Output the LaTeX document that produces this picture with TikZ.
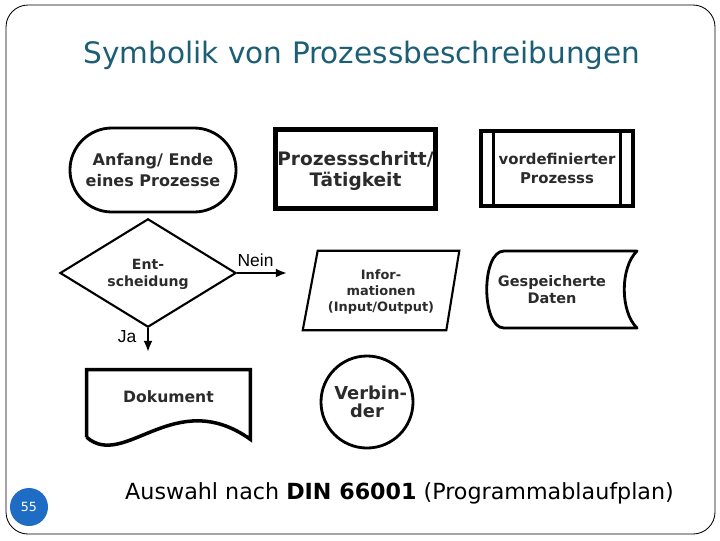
\documentclass[tikz,border=0pt]{standalone}
\usepackage{fontspec}
\setmainfont{DejaVu Sans}
\newfontfamily\arialfont{Liberation Sans}
\usetikzlibrary{positioning, arrows.meta, calc, shapes.geometric}

\definecolor{titleteal}{HTML}{1B5E75}
\definecolor{pageblue}{HTML}{1F6CC4}
\definecolor{symtext}{HTML}{2B2B2B}

\tikzset{
  symbol/.style={align=center, text=symtext, inner sep=0pt, text depth=0pt},
  symfont/.style 2 args={font=\fontsize{#1}{#2}\selectfont\bfseries},
  terminal/.style={symbol, draw=black, line width=2pt, rounded corners=1.05cm},
  flowarrow/.style={line width=1.6pt, -{Latex[length=8pt, width=6.5pt]}},
  yesno/.style={font=\arialfont\fontsize{12.4}{14}\selectfont, inner sep=0pt}
}

\begin{document}
\begin{tikzpicture}[x=0.025cm, y=-0.025cm, >=Stealth]

\useasboundingbox (0, 0) rectangle (720, 540);

% --- Slide frame ---
\draw[line width=0.6pt, rounded corners=0.55cm] (6, 5) rectangle (715, 534);

% --- Title ---
\node[text=titleteal, font=\fontsize{21}{25}\selectfont] (title) at (362, 55)
  {Symbolik von Prozessbeschreibungen};

% --- Row 1 ---
\node[terminal, minimum width=4.15cm, minimum height=2.1cm, symfont={11.4}{15}]
  (start) at (153, 170) {Anfang/ Ende\\eines Prozesse};

\node[symbol, draw=black, line width=3.5pt, minimum width=3.98cm, minimum height=1.97cm,
  symfont={13.2}{15}] (step) at (355.5, 169) {Prozessschritt/\\Tätigkeit};

\node[symbol, draw=black, line width=2.8pt, minimum width=3.78cm, minimum height=1.86cm,
  symfont={10.6}{13.5}] (predef) at (557, 168.5) {vordefinierter\\Prozesss};
\draw[line width=2.2pt] ($(predef.north west)+(14, 0)$) -- ($(predef.south west)+(14, 0)$);
\draw[line width=2.2pt] ($(predef.north east)+(-14, 0)$) -- ($(predef.south east)+(-14, 0)$);

% --- Row 2 ---
\node[symbol, diamond, draw=black, line width=1.5pt, minimum width=4.4cm, minimum height=2.2cm,
  symfont={10}{12}] (decision) at (148, 273) {Ent-\\scheidung};
\coordinate (nein end) at (287, 273);
\coordinate (ja end) at (148, 352);
\draw[flowarrow] (decision.east) -- (nein end)
  node[yesno, pos=0.37, anchor=south, yshift=3.5pt] (nein) {Nein};
\draw[flowarrow] (decision.south) -- (ja end)
  node[yesno, pos=0.37, left=7.5pt] (ja) {Ja};

% I/O parallelogram
\node[symbol, minimum width=3.9cm, minimum height=1.975cm, symfont={9.2}{11.4}]
  (io) at (381, 290.5) {Infor-\\mationen\\(Input/Output)};
\draw[line width=1.5pt] ($(io.north west)+(15, 0)$) -- (io.north east)
  -- ($(io.south east)+(-13, 0)$) -- (io.south west) -- cycle;

% stored data (offsets from the text centre)
\node[symbol, symfont={10.3}{12}] (stored) at (552, 289.5) {Gespeicherte\\Daten};
\draw[line width=2pt, line join=round] ($(stored.center)+(-48, -38.5)$) -- ($(stored.center)+(85, -38.5)$)
  .. controls ($(stored.center)+(68, -22)$) and ($(stored.center)+(68, 22)$)
  .. ($(stored.center)+(85, 38.5)$) -- ($(stored.center)+(-48, 38.5)$)
  .. controls ($(stored.center)+(-71, 38.5)$) and ($(stored.center)+(-71, -38.5)$) .. cycle;

% --- Row 3 ---
\node[symbol, minimum width=4.075cm, minimum height=1.35cm, symfont={11.1}{13}]
  (doc) at (168.5, 397) {Dokument};
\draw[line width=2.5pt, line join=miter] ($(doc.south west)+(0, 13)$) -- (doc.north west)
  -- (doc.north east) -- ($(doc.south east)+(0, 15)$)
  .. controls ($(doc.south west)+(88, -39)$) and ($(doc.south west)+(38, 46)$)
  .. ($(doc.south west)+(0, 13)$);

\node[symbol, circle, draw=black, line width=2pt, minimum size=2.3cm, symfont={12.7}{13}]
  (connector) at (367, 402) {Verbin\rlap{-}\\der};

% --- Footer ---
\node[font=\fontsize{15.8}{19}\selectfont] (source) at (399.5, 493)
  {Auswahl nach \textbf{DIN 66001} (Programmablaufplan)};
\node[circle, fill=pageblue, minimum size=0.95cm, inner sep=0pt, text=white,
  font=\fontsize{9}{10}\selectfont] (page) at (29, 507) {55};

\end{tikzpicture}
\end{document}
